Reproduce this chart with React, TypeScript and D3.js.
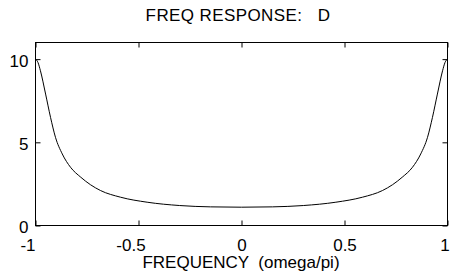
import React, { useEffect, useRef } from 'react';
import * as d3 from 'd3';

// values
const freq = [
  -1, -0.988, -0.976, -0.951, -0.927, -0.903, -0.87, -0.83, -0.78, -0.733, -0.684, -0.587, -0.458, -0.3, -0.15, 0,
  0.15, 0.3, 0.458, 0.587, 0.684, 0.733, 0.78, 0.83, 0.87, 0.903, 0.927, 0.951, 0.976, 0.988, 1
];
const magnitude = [
  10, 9.8, 9.3, 7.9, 6.5, 5.3, 4.3, 3.5, 2.9, 2.45, 2.1, 1.7, 1.4, 1.2, 1.12, 1.1,
  1.12, 1.2, 1.4, 1.7, 2.1, 2.45, 2.9, 3.5, 4.3, 5.3, 6.5, 7.9, 9.3, 9.8, 10
];
const xTicks = [-1, -0.5, 0, 0.5, 1];
const yTicks = [0, 5, 10];

const title = 'FREQ RESPONSE:   D';
const xLabel = 'FREQUENCY  (omega/pi)';

const W = 450;
const H = 275;
const font = '"Liberation Sans", Arial, Helvetica, sans-serif';

const App = () => {
  const rootRef = useRef<SVGSVGElement>(null);

  useEffect(() => {
    const svg = d3.select(rootRef.current);
    svg.selectAll('*').remove();

    const x = d3.scaleLinear().domain([-1, 1]).range([35.5, 447.5]);
    const y = d3.scaleLinear().domain([0, 11]).range([225.5, 42.5]);

    const fmt = (d: d3.NumberValue) => String(d);

    // bottom axis with labels
    const gx = svg
      .append('g')
      .attr('transform', `translate(0,${y(0)})`)
      .call(d3.axisBottom(x).tickValues(xTicks).tickSizeInner(-5).tickSizeOuter(0).tickPadding(13).tickFormat(fmt));
    gx.selectAll('text').attr('dx', (d: any) => (d < 0 ? -8 : d === 1 ? -3 : 0));

    // top axis, ticks only
    svg
      .append('g')
      .attr('transform', `translate(0,${y(11)})`)
      .call(d3.axisTop(x).tickValues(xTicks).tickSizeInner(-5).tickSizeOuter(0).tickFormat(() => ''));

    // left axis with labels
    const gy = svg
      .append('g')
      .attr('transform', `translate(${x(-1)},0)`)
      .call(d3.axisLeft(y).tickValues(yTicks).tickSizeInner(-5).tickSizeOuter(0).tickPadding(7).tickFormat(fmt));
    gy.selectAll('text').attr('dy', '0.44em');

    // right axis, ticks only
    svg
      .append('g')
      .attr('transform', `translate(${x(1)},0)`)
      .call(d3.axisRight(y).tickValues(yTicks).tickSizeInner(-5).tickSizeOuter(0).tickFormat(() => ''));

    svg
      .selectAll('.tick text')
      .attr('font-family', font)
      .attr('font-size', 17)
      .attr('fill', '#000');
    svg.selectAll('.domain').remove();
    svg.selectAll('.tick line').attr('stroke', '#000');

    // box
    svg
      .append('rect')
      .attr('x', x(-1))
      .attr('y', y(11))
      .attr('width', x(1) - x(-1))
      .attr('height', y(0) - y(11))
      .attr('fill', 'none')
      .attr('stroke', '#000');

    const line = d3
      .line<number>()
      .x((_, i) => x(freq[i]))
      .y((d) => y(d))
      .curve(d3.curveMonotoneX);

    svg
      .append('path')
      .datum(magnitude)
      .attr('d', line)
      .attr('fill', 'none')
      .attr('stroke', '#000')
      .attr('stroke-width', 1);

    svg
      .append('text')
      .attr('x', 238)
      .attr('y', 21)
      .attr('text-anchor', 'middle')
      .attr('font-family', font)
      .attr('font-size', 17)
      .attr('letter-spacing', 0.4)
      .style('white-space', 'pre')
      .text(title);

    svg
      .append('text')
      .attr('x', 241)
      .attr('y', 268)
      .attr('text-anchor', 'middle')
      .attr('font-family', font)
      .attr('font-size', 17)
      .style('white-space', 'pre')
      .text(xLabel);
  }, []);

  return (
    <div style={{ position: 'absolute', left: 0, top: 0, width: W, height: H, background: '#fff' }}>
      <svg ref={rootRef} width={W} height={H} style={{ display: 'block' }}></svg>
    </div>
  );
};

export default App;
